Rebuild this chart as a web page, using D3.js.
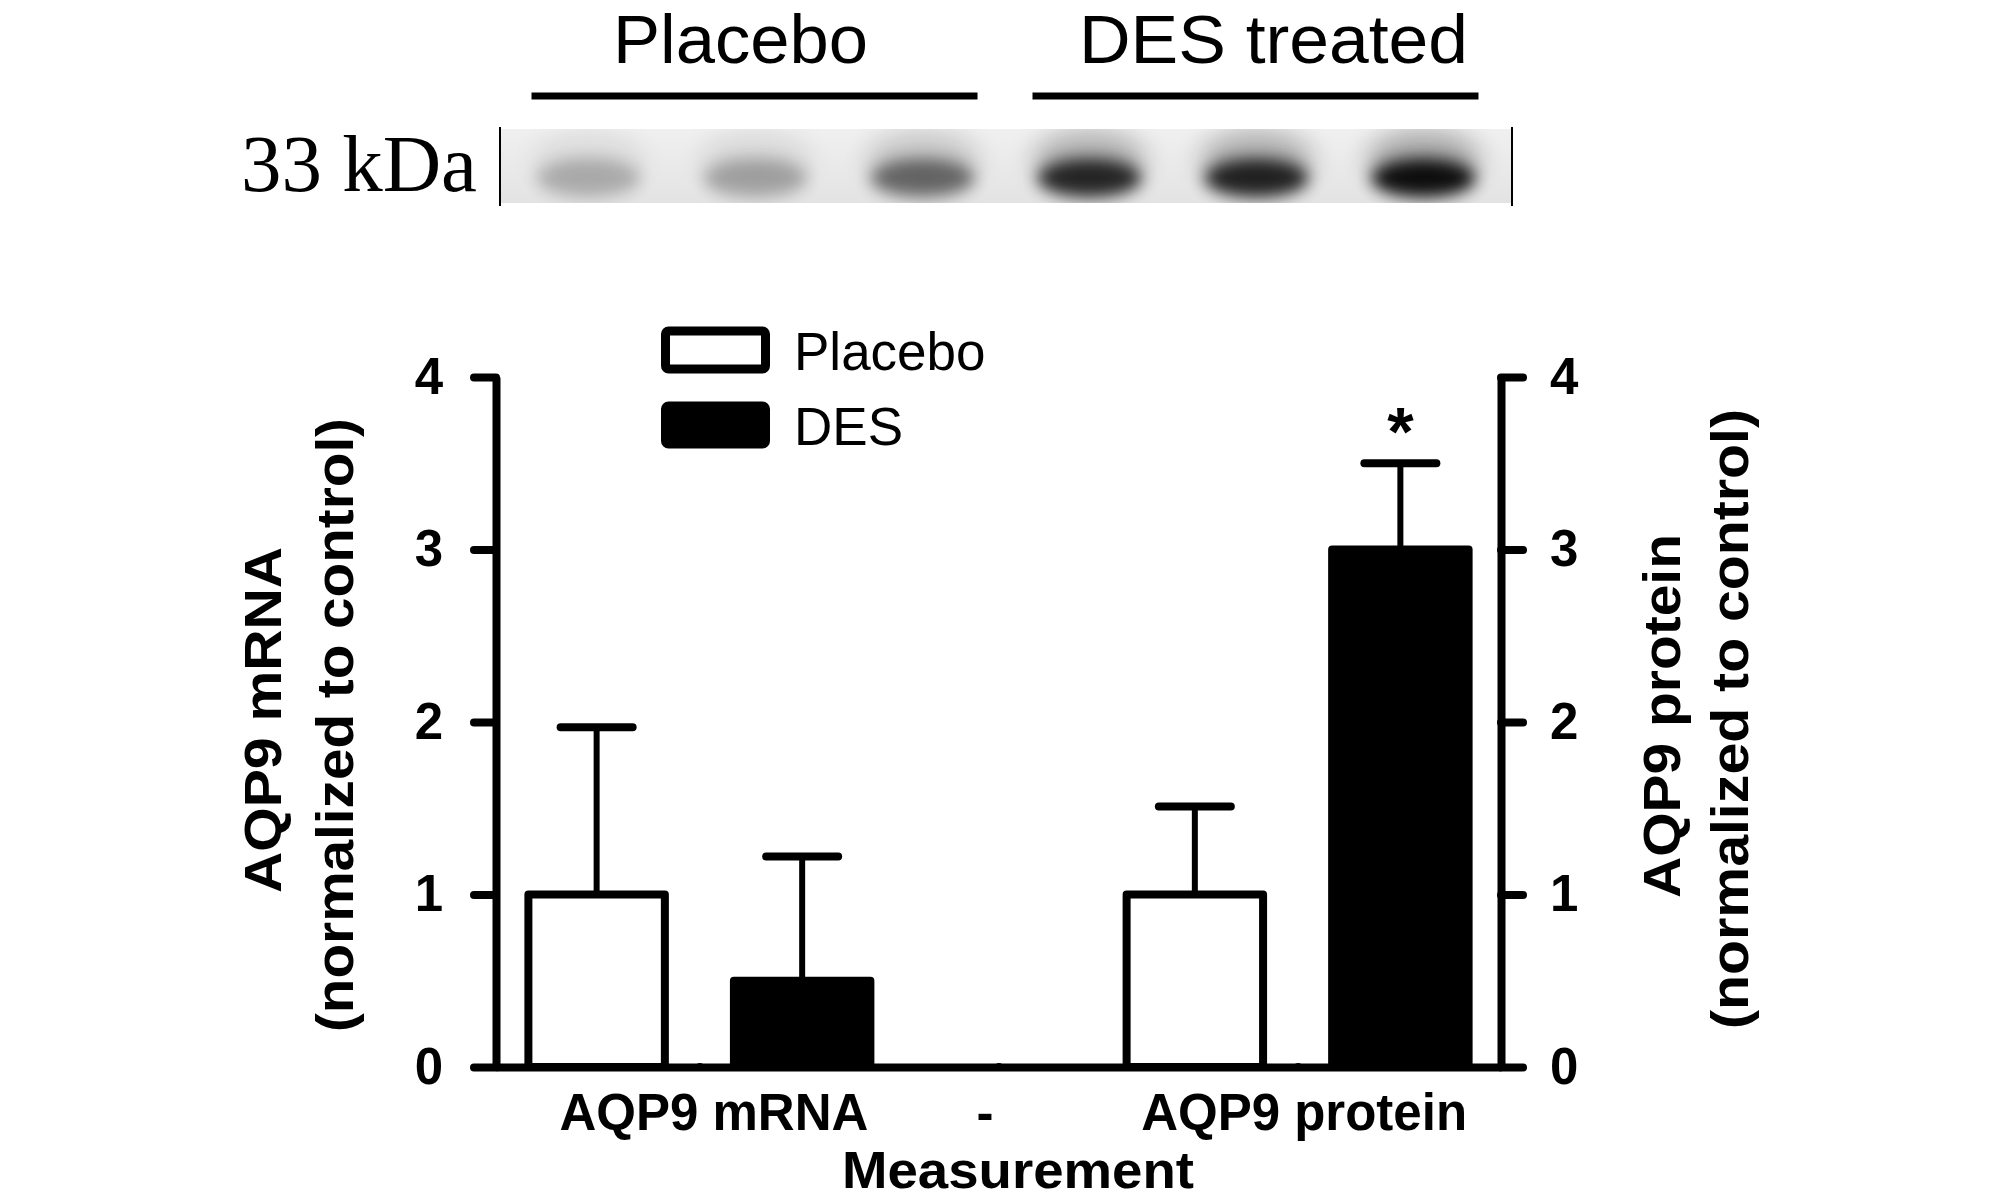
<!DOCTYPE html>
<html>
  <head>
    <meta charset="utf-8" />
    <title>AQP9 mRNA og protein</title>
    <script src="https://cdn.jsdelivr.net/npm/d3@7"></script>
    <style>
      body {
        margin: 0;
        background: #fff;
      }
      text {
        font-family: "Liberation Sans", Arial, sans-serif;
        fill: #000;
      }
    </style>
  </head>

  <body>
    <script>
      // Data til søjlediagrammet
      const categories = ["AQP9 mRNA", "-", "AQP9 protein"];
      const series = ["Placebo", "DES"];
      const placeboMean = [1.0, null, 1.0];
      const placeboErr = [0.97, null, 0.51];
      const desMean = [0.5, null, 3.0];
      const desErr = [0.72, null, 0.5];
      const desStar = ["", "", "*"];
      const yTicks = [0, 1, 2, 3, 4];

      // Western blot øverst (6 baner)
      const gelLanes = ["P1", "P2", "P3", "D1", "D2", "D3"];
      const bandDensity = [0.22, 0.26, 0.5, 0.8, 0.82, 0.92];
      const gelGroups = ["Placebo", "DES treated"];
      const gelGroupFirst = ["P1", "D1"];
      const gelGroupLast = ["P3", "D3"];

      const w = 2000;
      const h = 1200;

      const svg = d3
        .select("body")
        .append("svg")
        .attr("width", w)
        .attr("height", h);

      // ---------- gel ----------
      const gx = d3.scalePoint().domain(gelLanes).range([500, 1512]).padding(0.53);

      const defs = svg.append("defs");
      defs
        .append("filter")
        .attr("id", "blur")
        .attr("x", "-50%")
        .attr("y", "-50%")
        .attr("width", "200%")
        .attr("height", "200%")
        .append("feGaussianBlur")
        .attr("stdDeviation", 8);
      defs
        .append("filter")
        .attr("id", "blurSoft")
        .attr("x", "-50%")
        .attr("y", "-50%")
        .attr("width", "200%")
        .attr("height", "200%")
        .append("feGaussianBlur")
        .attr("stdDeviation", 13);
      const bgGrad = defs
        .append("linearGradient")
        .attr("id", "gelBg")
        .attr("x1", 0)
        .attr("y1", 0)
        .attr("x2", 0)
        .attr("y2", 1);
      bgGrad.append("stop").attr("offset", "0%").attr("stop-color", "#f0f0f0");
      bgGrad.append("stop").attr("offset", "100%").attr("stop-color", "#e3e3e3");

      const gel = svg.append("g");
      const gelClip = defs.append("clipPath").attr("id", "gelClip");
      gelClip.append("rect").attr("x", 501).attr("y", 129).attr("width", 1010).attr("height", 74);

      gel
        .append("rect")
        .attr("x", 501)
        .attr("y", 129)
        .attr("width", 1010)
        .attr("height", 74)
        .attr("fill", "url(#gelBg)");

      const lanesG = gel.append("g").attr("clip-path", "url(#gelClip)");

      // svag udtværing over båndet
      lanesG
        .selectAll("ellipse.smear")
        .data(gelLanes)
        .enter()
        .append("ellipse")
        .attr("class", "smear")
        .attr("cx", (d) => gx(d))
        .attr("cy", 160)
        .attr("rx", 56)
        .attr("ry", 30)
        .attr("fill", "#000")
        .attr("opacity", (d, i) => bandDensity[i] * 0.32)
        .attr("filter", "url(#blurSoft)");

      // selve båndet
      lanesG
        .selectAll("ellipse.band")
        .data(gelLanes)
        .enter()
        .append("ellipse")
        .attr("class", "band")
        .attr("cx", (d) => gx(d))
        .attr("cy", 178)
        .attr("rx", 52)
        .attr("ry", 19)
        .attr("fill", "#000")
        .attr("opacity", (d, i) => bandDensity[i])
        .attr("filter", "url(#blur)");

      gel
        .selectAll("line.edge")
        .data([500, 1512])
        .enter()
        .append("line")
        .attr("class", "edge")
        .attr("x1", (d) => d)
        .attr("x2", (d) => d)
        .attr("y1", 127)
        .attr("y2", 206)
        .attr("stroke", "#000")
        .attr("stroke-width", 2);

      svg
        .append("text")
        .attr("x", 241)
        .attr("y", 191)
        .style("font-family", "'Liberation Serif', 'Times New Roman', serif")
        .attr("font-size", 80)
        .attr("textLength", 236)
        .attr("lengthAdjust", "spacingAndGlyphs")
        .text("33 kDa");

      // gruppe-streger og navne over gel
      const headerShift = [-14, 18];
      const headerLen = [255, 389];
      gelGroups.forEach(function (name, i) {
        const x0 = gx(gelGroupFirst[i]) - 57;
        const x1 = gx(gelGroupLast[i]) + 55;
        svg
          .append("line")
          .attr("x1", x0)
          .attr("x2", x1)
          .attr("y1", 96)
          .attr("y2", 96)
          .attr("stroke", "#000")
          .attr("stroke-width", 7);
        svg
          .append("text")
          .attr("x", (x0 + x1) / 2 + headerShift[i])
          .attr("y", 63)
          .attr("text-anchor", "middle")
          .attr("font-size", 69)
          .attr("textLength", headerLen[i])
          .attr("lengthAdjust", "spacingAndGlyphs")
          .text(name);
      });

      // ---------- søjlediagram ----------
      const x = d3.scalePoint().domain(categories).range([496, 1501]).padding(0.68);
      const xs = d3.scaleBand().domain(series).range([-171, 171]).paddingInner(0.336);
      const y = d3.scaleLinear().domain([0, 4]).range([1067, 377]);

      const means = { Placebo: placeboMean, DES: desMean };
      const errs = { Placebo: placeboErr, DES: desErr };
      const fills = { Placebo: "#fff", DES: "#000" };

      const barData = [];
      for (let s of series) {
        categories.forEach(function (c, i) {
          if (means[s][i] !== null) {
            barData.push({ cat: c, s: s, v: means[s][i], e: errs[s][i], star: s === "DES" ? desStar[i] : "" });
          }
        });
      }

      const chart = svg.append("g");

      // fejlstreger
      chart
        .selectAll("line.stem")
        .data(barData)
        .enter()
        .append("line")
        .attr("class", "stem")
        .attr("x1", (d) => x(d.cat) + xs(d.s) + xs.bandwidth() / 2)
        .attr("x2", (d) => x(d.cat) + xs(d.s) + xs.bandwidth() / 2)
        .attr("y1", (d) => y(d.v))
        .attr("y2", (d) => y(d.v + d.e))
        .attr("stroke", "#000")
        .attr("stroke-width", 6);

      chart
        .selectAll("line.cap")
        .data(barData)
        .enter()
        .append("line")
        .attr("class", "cap")
        .attr("x1", (d) => x(d.cat) + xs(d.s) + xs.bandwidth() / 2 - 36)
        .attr("x2", (d) => x(d.cat) + xs(d.s) + xs.bandwidth() / 2 + 36)
        .attr("y1", (d) => y(d.v + d.e))
        .attr("y2", (d) => y(d.v + d.e))
        .attr("stroke", "#000")
        .attr("stroke-width", 8)
        .attr("stroke-linecap", "round");

      chart
        .selectAll("rect.bar")
        .data(barData)
        .enter()
        .append("rect")
        .attr("class", "bar")
        .attr("x", (d) => x(d.cat) + xs(d.s))
        .attr("y", (d) => y(d.v))
        .attr("width", xs.bandwidth())
        .attr("height", (d) => y(0) - y(d.v))
        .attr("fill", (d) => fills[d.s])
        .attr("stroke", "#000")
        .attr("stroke-width", 8)
        .attr("stroke-linejoin", "round");

      chart
        .selectAll("text.star")
        .data(barData.filter((d) => d.star))
        .enter()
        .append("text")
        .attr("class", "star")
        .attr("x", (d) => x(d.cat) + xs(d.s) + xs.bandwidth() / 2)
        .attr("y", (d) => y(d.v + d.e) - 8)
        .attr("text-anchor", "middle")
        .attr("font-size", 68)
        .attr("font-weight", "bold")
        .text((d) => d.star);

      // akser
      function styleAxis(g) {
        g.select(".domain").attr("stroke-width", 8).attr("stroke", "#000");
        g.selectAll(".tick line").attr("stroke-width", 8).attr("stroke", "#000").attr("stroke-linecap", "round");
        g.selectAll(".tick text")
          .attr("font-size", 51)
          .attr("font-weight", "bold")
          .attr("font-family", "'Liberation Sans', Arial, sans-serif");
      }

      svg
        .append("g")
        .attr("transform", "translate(496,0)")
        .call(d3.axisLeft(y).tickValues(yTicks).tickFormat(d3.format("d")).tickSize(22).tickSizeOuter(0).tickPadding(31))
        .call(styleAxis);

      svg
        .append("g")
        .attr("transform", "translate(1501,0)")
        .call(d3.axisRight(y).tickValues(yTicks).tickFormat(d3.format("d")).tickSize(22).tickSizeOuter(0).tickPadding(27))
        .call(styleAxis);

      const xAxisG = svg
        .append("g")
        .attr("transform", "translate(0,1067)")
        .call(d3.axisBottom(x).tickSize(0).tickSizeOuter(0).tickPadding(27))
        .call(styleAxis);
      // etiketterne står lidt forskudt i originalen
      xAxisG.selectAll(".tick text").attr("dx", (d, i) => [14, -14, 6][i]);

      // aksetitler
      svg
        .append("text")
        .attr("x", 1018)
        .attr("y", 1188)
        .attr("text-anchor", "middle")
        .attr("font-size", 52)
        .attr("font-weight", "bold")
        .attr("textLength", 352)
        .attr("lengthAdjust", "spacingAndGlyphs")
        .text("Measurement");

      const yTitles = [
        { x: 281, y: 720, len: 346, t: "AQP9 mRNA" },
        { x: 353, y: 725, len: 614, t: "(normalized to control)" },
        { x: 1680, y: 716, len: 364, t: "AQP9 protein" },
        { x: 1748, y: 719, len: 620, t: "(normalized to control)" },
      ];
      svg
        .selectAll("text.ytitle")
        .data(yTitles)
        .enter()
        .append("text")
        .attr("class", "ytitle")
        .attr("transform", (d) => `translate(${d.x},${d.y}) rotate(-90)`)
        .attr("text-anchor", "middle")
        .attr("font-size", 51)
        .attr("font-weight", "bold")
        .attr("textLength", (d) => d.len)
        .attr("lengthAdjust", "spacingAndGlyphs")
        .text((d) => d.t);

      // forklaring
      const ly = d3.scalePoint().domain(series).range([350, 425]);
      const legend = svg.append("g");
      legend
        .selectAll("rect")
        .data(series)
        .enter()
        .append("rect")
        .attr("x", 665.5)
        .attr("y", (d) => ly(d) - 19)
        .attr("width", 100)
        .attr("height", 38)
        .attr("rx", 3)
        .attr("fill", (d) => fills[d])
        .attr("stroke", "#000")
        .attr("stroke-width", 9);
      legend
        .selectAll("text")
        .data(series)
        .enter()
        .append("text")
        .attr("x", 794)
        .attr("y", (d) => ly(d) + 20)
        .attr("font-size", 53)
        .text((d) => d);
    </script>
  </body>
</html>
